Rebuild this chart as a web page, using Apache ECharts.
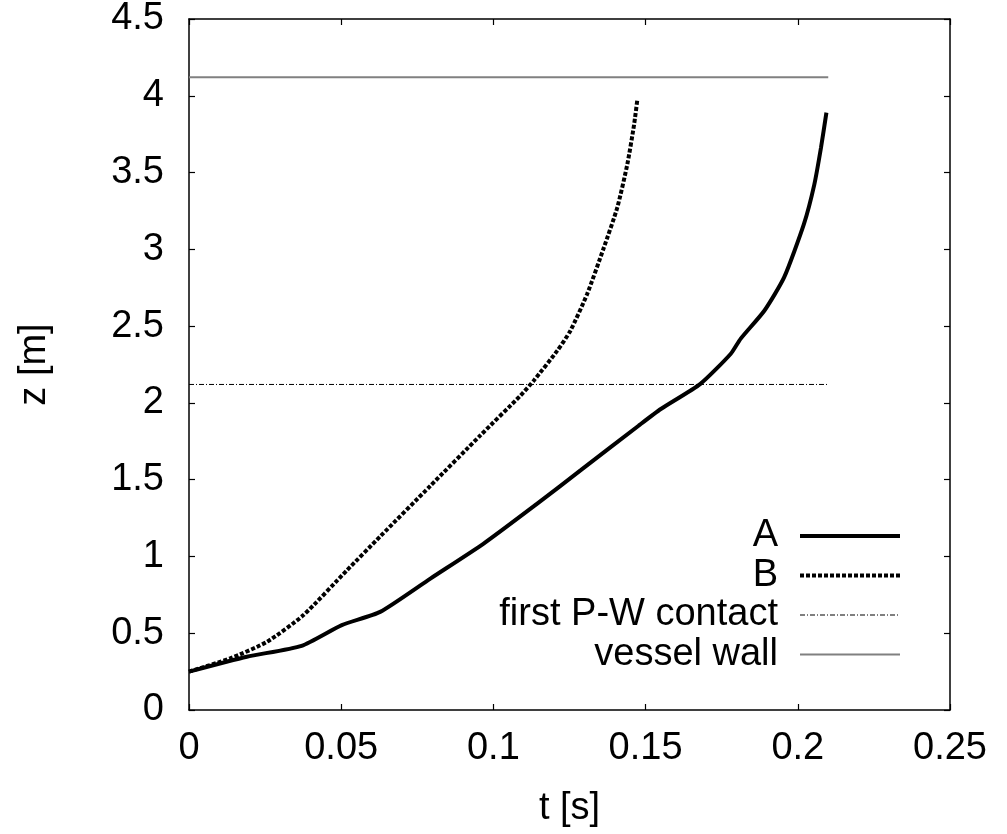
<!DOCTYPE html>
<html>
<head>
<meta charset="utf-8">
<script src="https://cdn.jsdelivr.net/npm/echarts@6/dist/echarts.min.js"></script>
<style>
  html, body { margin: 0; padding: 0; background: #fff; }
  #main { width: 1007px; height: 834px; }
</style>
</head>
<body>
<div id="main"></div>
<script>
// curve A
var tA = [0, 0.019, 0.037, 0.0502, 0.0628, 0.0793, 0.0968, 0.1144, 0.1286, 0.1478, 0.155, 0.168, 0.178, 0.1812, 0.189, 0.1955, 0.202, 0.2054, 0.2076, 0.2094];
var zA = [0.25, 0.347, 0.418, 0.553, 0.639, 0.856, 1.084, 1.344, 1.56, 1.853, 1.96, 2.124, 2.32, 2.417, 2.60, 2.817, 3.164, 3.42, 3.66, 3.89];
// curve B
var tB = [0, 0.0135, 0.0256, 0.0376, 0.0519, 0.0628, 0.0793, 0.0957, 0.1089, 0.1133, 0.121, 0.1253, 0.1308, 0.1363, 0.1407, 0.144, 0.1462, 0.1473];
var zB = [0.25, 0.336, 0.444, 0.618, 0.91, 1.13, 1.46, 1.788, 2.048, 2.146, 2.34, 2.47, 2.709, 3.012, 3.272, 3.554, 3.81, 3.977];
// horizontal reference lines
var lineT = [0, 0.21];
var contactZ = 2.12;
var wallZ = 4.12;

function pairs(xs, ys) {
    return xs.map(function (x, i) { return [x, ys[i]]; });
}
function flat(xs, z) {
    return xs.map(function (x) { return [x, z]; });
}

var FONT = '"Liberation Sans", Arial, sans-serif';
var myChart = echarts.init(document.getElementById('main'));

var axisLine = { show: true, onZero: false, lineStyle: { color: '#000', width: 1.5 } };
var tick = { show: true, inside: true, length: 6, lineStyle: { color: '#000', width: 1.2 } };
// hide the round marker that line series put in the legend
var noMarker = { opacity: 0 };

option = {
    animation: false,
    backgroundColor: '#fff',
    grid: { left: 189, right: 57, top: 18, bottom: 124 },
    legend: {
        orient: 'vertical',
        align: 'right',
        right: 105,
        top: 517,
        padding: 0,
        itemWidth: 100,
        itemHeight: 14,
        itemGap: 1.5,
        textStyle: { fontSize: 38, color: '#000', fontFamily: FONT, padding: [0, 17, 0, 0] },
        data: [
            { name: 'A', itemStyle: noMarker, lineStyle: { width: 4, color: '#000' } },
            { name: 'B', itemStyle: noMarker, lineStyle: { width: 4, color: '#000', type: [4, 2] } },
            { name: 'first P-W contact', itemStyle: noMarker, lineStyle: { width: 1, color: '#000', type: [5, 2, 1, 2] } },
            { name: 'vessel wall', itemStyle: noMarker, lineStyle: { width: 2, color: '#808080' } }
        ]
    },
    xAxis: [{
        type: 'value',
        position: 'bottom',
        min: 0, max: 0.25, interval: 0.05,
        name: 't [s]',
        nameLocation: 'middle',
        nameGap: 80,
        nameTextStyle: { fontSize: 38, color: '#000', fontFamily: FONT },
        axisLine: axisLine,
        axisTick: tick,
        splitLine: { show: false },
        axisLabel: { fontSize: 38, color: '#000', fontFamily: FONT, margin: 20 }
    }, {
        type: 'value',
        position: 'top',
        min: 0, max: 0.25, interval: 0.05,
        axisLine: axisLine,
        axisTick: tick,
        splitLine: { show: false },
        axisLabel: { show: false }
    }],
    yAxis: [{
        type: 'value',
        position: 'left',
        min: 0, max: 4.5, interval: 0.5,
        name: 'z [m]',
        nameLocation: 'middle',
        nameGap: 135,
        nameTextStyle: { fontSize: 38, color: '#000', fontFamily: FONT },
        axisLine: axisLine,
        axisTick: tick,
        splitLine: { show: false },
        axisLabel: { fontSize: 38, color: '#000', fontFamily: FONT, margin: 25 }
    }, {
        type: 'value',
        position: 'right',
        min: 0, max: 4.5, interval: 0.5,
        axisLine: axisLine,
        axisTick: tick,
        splitLine: { show: false },
        axisLabel: { show: false }
    }],
    series: [{
        name: 'A',
        type: 'line',
        symbol: 'none',
        smooth: 0.2,
        z: 4,
        lineStyle: { width: 4, color: '#000' },
        itemStyle: { color: '#000' },
        data: pairs(tA, zA)
    }, {
        name: 'B',
        type: 'line',
        symbol: 'none',
        smooth: 0.2,
        z: 4,
        lineStyle: { width: 4, color: '#000', type: [4, 2] },
        itemStyle: { color: '#000' },
        data: pairs(tB, zB)
    }, {
        name: 'first P-W contact',
        type: 'line',
        symbol: 'none',
        z: 3,
        lineStyle: { width: 1, color: '#000', type: [5, 2, 1, 2] },
        itemStyle: { color: '#000' },
        data: flat(lineT, contactZ)
    }, {
        name: 'vessel wall',
        type: 'line',
        symbol: 'none',
        z: 3,
        lineStyle: { width: 2, color: '#808080' },
        itemStyle: { color: '#808080' },
        data: flat(lineT, wallZ)
    }]
};

myChart.setOption(option);
</script>
</body>
</html>
